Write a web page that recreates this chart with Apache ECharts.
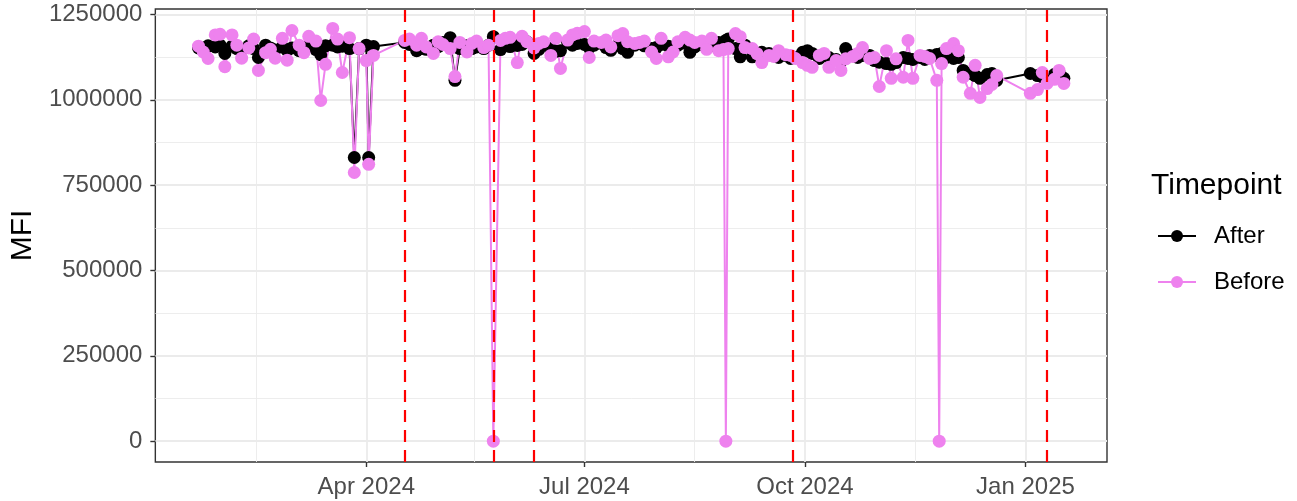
<!DOCTYPE html>
<html>
<head>
<meta charset="utf-8">
<script src="https://cdn.jsdelivr.net/npm/echarts@6/dist/echarts.min.js"></script>
<style>
html, body { margin: 0; padding: 0; background: #fff; }
#chart { width: 1297px; height: 501px; }
</style>
</head>
<body>
<div id="chart"></div>
<script>
// sample dates, shared by both timepoints
var dates = [
  '2024-01-22','2024-01-24','2024-01-26','2024-01-29','2024-01-31','2024-02-02','2024-02-05','2024-02-07',
  '2024-02-09','2024-02-12','2024-02-14','2024-02-16','2024-02-19','2024-02-21','2024-02-23','2024-02-26',
  '2024-02-28','2024-03-01','2024-03-04','2024-03-06','2024-03-08','2024-03-11','2024-03-13','2024-03-15',
  '2024-03-18','2024-03-20','2024-03-22','2024-03-25','2024-03-27','2024-03-29','2024-04-01','2024-04-02',
  '2024-04-04',
  '2024-04-17','2024-04-19','2024-04-22','2024-04-24','2024-04-26','2024-04-29','2024-05-01','2024-05-03',
  '2024-05-06','2024-05-08','2024-05-10','2024-05-13','2024-05-15','2024-05-17','2024-05-20','2024-05-22',
  '2024-05-24',
  '2024-05-27','2024-05-29','2024-05-31','2024-06-03','2024-06-05','2024-06-07','2024-06-10','2024-06-12',
  '2024-06-14','2024-06-17','2024-06-19','2024-06-21','2024-06-24','2024-06-26','2024-06-28','2024-07-01',
  '2024-07-03','2024-07-05','2024-07-08','2024-07-10','2024-07-12','2024-07-15','2024-07-17','2024-07-19',
  '2024-07-22','2024-07-24','2024-07-26','2024-07-29','2024-07-31','2024-08-02','2024-08-05','2024-08-07',
  '2024-08-09','2024-08-12','2024-08-14','2024-08-16','2024-08-19','2024-08-21','2024-08-23','2024-08-26',
  '2024-08-28','2024-08-29','2024-08-30','2024-09-02','2024-09-04','2024-09-06','2024-09-09','2024-09-11',
  '2024-09-13','2024-09-16','2024-09-18','2024-09-20','2024-09-23','2024-09-25',
  '2024-09-27','2024-09-30','2024-10-02','2024-10-04','2024-10-07','2024-10-09','2024-10-11','2024-10-14',
  '2024-10-16','2024-10-18','2024-10-21','2024-10-23','2024-10-25','2024-10-28','2024-10-30','2024-11-01',
  '2024-11-04','2024-11-06','2024-11-08','2024-11-11','2024-11-13','2024-11-15','2024-11-18','2024-11-20',
  '2024-11-22','2024-11-25','2024-11-26','2024-11-27','2024-11-29','2024-12-02','2024-12-04','2024-12-06',
  '2024-12-09','2024-12-11','2024-12-13','2024-12-16','2024-12-18','2024-12-20',
  '2025-01-03','2025-01-06','2025-01-08','2025-01-10','2025-01-13','2025-01-15','2025-01-17'
];

var afterMFI = [
  1152000,1147000,1158000,1155000,1160000,1136000,1157000,1150000,
  1146000,1158000,1150000,1124000,1160000,1152000,1146000,1155000,
  1145000,1152000,1144000,1150000,1158000,1147000,1132000,1158000,
  1160000,1155000,1157000,1150000,831000,1150000,1160000,831000,
  1156000,
  1168000,1162000,1144000,1150000,1148000,1160000,1156000,1168000,
  1182000,1057000,1150000,1158000,1150000,1155000,1150000,1160000,
  1185000,
  1147000,1160000,1156000,1159000,1162000,1170000,1136000,1148000,
  1165000,1150000,1142000,1144000,1168000,1160000,1165000,1162000,
  1153000,1160000,1166000,1153000,1145000,1160000,1150000,1139000,
  1160000,1166000,1158000,1150000,1153000,1162000,1157000,1150000,
  1160000,1166000,1139000,1155000,1162000,1153000,1159000,1168000,
  1160000,1174000,1178000,1150000,1126000,1160000,1126000,1130000,
  1139000,1136000,1130000,1124000,1130000,1121000,
  1124000,1139000,1144000,1136000,1121000,1130000,1124000,1118000,
  1112000,1150000,1130000,1124000,1130000,1130000,1115000,1110000,
  1106000,1104000,1109000,1124000,1121000,1118000,1124000,1118000,
  1130000,1133000,1127000,1136000,1124000,1121000,1124000,1086000,
  1077000,1071000,1063000,1074000,1077000,1057000,
  1077000,1071000,1068000,1060000,1074000,1080000,1063000
];

var beforeMFI = [
  1157000,1140000,1121000,1190000,1192000,1097000,1190000,1160000,
  1122000,1152000,1178000,1086000,1138000,1148000,1122000,1180000,
  1116000,1203000,1160000,1138000,1186000,1172000,998000,1104000,
  1209000,1178000,1080000,1182000,787000,1150000,1115000,811000,
  1130000,
  1174000,1178000,1160000,1180000,1155000,1136000,1170000,1162000,
  1150000,1068000,1168000,1140000,1165000,1172000,1153000,1160000,
  0,
  1174000,1180000,1183000,1109000,1186000,1170000,1152000,1165000,
  1170000,1130000,1180000,1092000,1175000,1190000,1195000,1200000,
  1124000,1172000,1168000,1175000,1155000,1188000,1194000,1170000,
  1165000,1168000,1172000,1140000,1121000,1180000,1126000,1140000,
  1170000,1183000,1175000,1168000,1172000,1148000,1180000,1144000,
  1147000,0,1150000,1194000,1185000,1153000,1150000,1135000,
  1109000,1130000,1127000,1144000,1132000,1130000,
  1121000,1109000,1101000,1095000,1130000,1136000,1095000,1115000,
  1086000,1120000,1127000,1136000,1153000,1121000,1124000,1039000,
  1144000,1063000,1120000,1066000,1174000,1063000,1130000,1127000,
  1121000,1057000,0,1106000,1150000,1165000,1144000,1066000,
  1019000,1101000,1007000,1033000,1045000,1071000,
  1019000,1030000,1080000,1048000,1060000,1086000,1048000
];

// red dashed reference dates
var cutDates = ['2024-04-17', '2024-05-24', '2024-06-10', '2024-09-26', '2025-01-10'];

var xRange = ['2024-01-04', '2025-02-04'];
var xTickDates = ['2024-04-01', '2024-07-01', '2024-10-01', '2025-01-01'];
var xTickLabels = ['Apr 2024', 'Jul 2024', 'Oct 2024', 'Jan 2025'];
var xMinorDates = ['2024-02-15', '2024-05-16', '2024-08-16', '2024-11-16'];
var yRange = [-61000, 1266000];
var yTicks = [0, 250000, 500000, 750000, 1000000, 1250000];
var yMinorTicks = [125000, 375000, 625000, 875000, 1125000];

var FONT = "'Liberation Sans', Arial, Helvetica, sans-serif";
var AFTER_COLOR = '#000000';
var BEFORE_COLOR = '#EE82EE';
var DOT = 13;

function toTs(s) {
  return new Date(s + 'T00:00:00Z').getTime();
}

var xTickTs = xTickDates.map(toTs);
var afterPts = dates.map(function (d, i) { return [toTs(d), afterMFI[i]]; });
var beforePts = dates.map(function (d, i) { return [toTs(d), beforeMFI[i]]; });

var myChart = echarts.init(document.getElementById('chart'), null, { renderer: 'canvas' });

var option = {
  animation: false,
  backgroundColor: '#ffffff',
  textStyle: { fontFamily: FONT },
  title: {
    text: 'Timepoint',
    left: 1151,
    top: 171,
    padding: 0,
    textStyle: { fontFamily: FONT, fontSize: 30, fontWeight: 'normal', color: '#000' }
  },
  legend: {
    data: ['After', 'Before'],
    orient: 'vertical',
    left: 1157,
    top: 224,
    padding: 0,
    itemWidth: 38,
    itemHeight: 15,
    itemGap: 22,
    textStyle: { fontFamily: FONT, fontSize: 24, color: '#000', padding: [0, 0, 0, 13] }
  },
  grid: {
    left: 155,
    right: 190,
    top: 9,
    bottom: 39,
    show: true,
    borderColor: '#333333',
    borderWidth: 1.4,
    backgroundColor: 'transparent'
  },
  xAxis: [
    {
      type: 'value',
      min: toTs(xRange[0]),
      max: toTs(xRange[1]),
      axisLine: { show: false, onZero: false },
      axisTick: {
        show: true,
        customValues: xTickTs,
        length: 5,
        lineStyle: { color: '#333333', width: 1.4 }
      },
      axisLabel: {
        customValues: xTickTs,
        margin: 13,
        fontSize: 24,
        fontFamily: FONT,
        color: '#4D4D4D',
        formatter: function (v) {
          var i = xTickTs.indexOf(v);
          return i >= 0 ? xTickLabels[i] : '';
        }
      },
      splitLine: { show: true, lineStyle: { color: '#EBEBEB', width: 1.8 } }
    },
    {
      // minor grid lines only
      type: 'value',
      min: toTs(xRange[0]),
      max: toTs(xRange[1]),
      axisLine: { show: false, onZero: false },
      axisTick: { show: false, customValues: xMinorDates.map(toTs) },
      axisLabel: { show: false },
      splitLine: { show: true, lineStyle: { color: '#EBEBEB', width: 0.9 } }
    }
  ],
  yAxis: [
    {
      type: 'value',
      min: yRange[0],
      max: yRange[1],
      name: 'MFI',
      nameLocation: 'middle',
      nameRotate: 90,
      nameGap: 110,
      nameTextStyle: { fontFamily: FONT, fontSize: 30, color: '#000' },
      axisLine: { show: false, onZero: false },
      axisTick: {
        show: true,
        customValues: yTicks,
        length: 5,
        lineStyle: { color: '#333333', width: 1.4 }
      },
      axisLabel: {
        customValues: yTicks,
        margin: 13,
        fontSize: 24,
        fontFamily: FONT,
        color: '#4D4D4D',
        formatter: function (v) { return String(v); }
      },
      splitLine: { show: true, lineStyle: { color: '#EBEBEB', width: 1.8 } }
    },
    {
      type: 'value',
      min: yRange[0],
      max: yRange[1],
      axisLine: { show: false, onZero: false },
      axisTick: { show: false, customValues: yMinorTicks },
      axisLabel: { show: false },
      splitLine: { show: true, lineStyle: { color: '#EBEBEB', width: 0.9 } }
    }
  ],
  series: [
    {
      name: 'After',
      type: 'line',
      data: afterPts,
      showSymbol: false,
      symbol: 'circle',
      symbolSize: DOT,
      lineStyle: { color: AFTER_COLOR, width: 2 },
      itemStyle: { color: AFTER_COLOR },
      z: 2
    },
    {
      name: 'Before',
      type: 'line',
      data: beforePts,
      showSymbol: false,
      symbol: 'circle',
      symbolSize: DOT,
      lineStyle: { color: BEFORE_COLOR, width: 2 },
      itemStyle: { color: BEFORE_COLOR },
      z: 2
    },
    {
      name: 'After',
      type: 'scatter',
      data: afterPts,
      symbol: 'circle',
      symbolSize: DOT,
      itemStyle: { color: AFTER_COLOR, opacity: 1 },
      z: 3
    },
    {
      name: 'Before',
      type: 'scatter',
      data: beforePts,
      symbol: 'circle',
      symbolSize: DOT,
      itemStyle: { color: BEFORE_COLOR, opacity: 1 },
      z: 4
    },
    {
      name: 'cuts',
      type: 'line',
      data: [],
      z: 6,
      markLine: {
        silent: true,
        symbol: 'none',
        label: { show: false },
        lineStyle: { color: '#FF0000', type: [12, 8], width: 2.2 },
        data: cutDates.map(function (d) { return { xAxis: toTs(d) }; })
      }
    }
  ]
};

myChart.setOption(option);
</script>
</body>
</html>
